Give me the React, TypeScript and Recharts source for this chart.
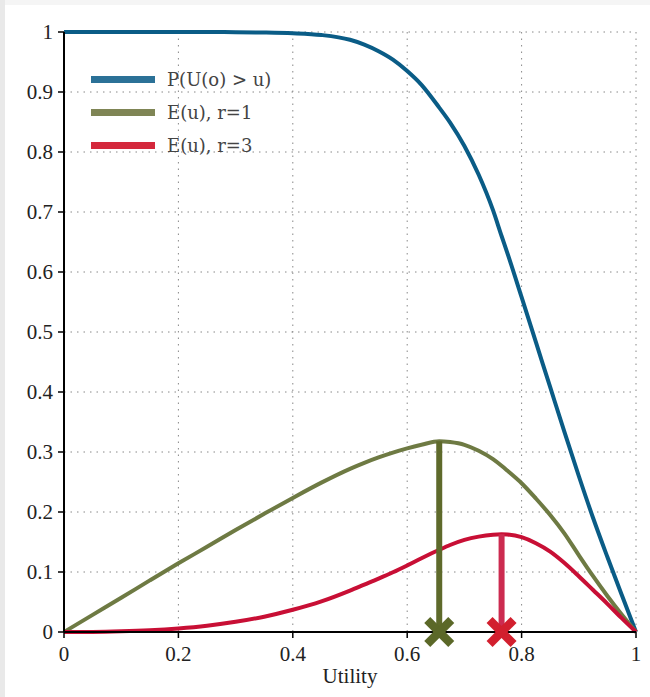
import { ComposedChart, Line, Scatter, XAxis, YAxis, CartesianGrid, ReferenceLine, Legend, Label } from "recharts";

const utility = [0, 0.05, 0.1, 0.15, 0.2, 0.25, 0.3, 0.35, 0.4, 0.45, 0.5, 0.525, 0.55, 0.575, 0.6, 0.625, 0.656, 0.675, 0.7, 0.725, 0.75, 0.765, 0.775, 0.8, 0.825, 0.85, 0.875, 0.9, 0.925, 0.95, 0.975, 1];
const probAbove = [1, 1, 1, 1, 1, 1, 0.9996, 0.9992, 0.998, 0.995, 0.987, 0.979, 0.968, 0.954, 0.935, 0.912, 0.874, 0.849, 0.81, 0.762, 0.703, 0.66, 0.632, 0.558, 0.483, 0.408, 0.333, 0.26, 0.19, 0.125, 0.062, 0];
const expectedR1 = [0, 0.0286, 0.057, 0.086, 0.1145, 0.142, 0.17, 0.197, 0.2235, 0.249, 0.272, 0.282, 0.291, 0.299, 0.306, 0.312, 0.318, 0.3165, 0.312, 0.302, 0.288, 0.277, 0.269, 0.248, 0.2225, 0.195, 0.164, 0.128, 0.093, 0.06, 0.029, 0];
const expectedR3 = [0, 0.0002, 0.0012, 0.003, 0.006, 0.0105, 0.017, 0.0255, 0.037, 0.051, 0.069, 0.079, 0.089, 0.0995, 0.111, 0.123, 0.137, 0.145, 0.1535, 0.159, 0.1622, 0.163, 0.1625, 0.158, 0.148, 0.134, 0.115, 0.093, 0.07, 0.047, 0.023, 0];

const optimumU = [0.656, 0.765];
const optimumE = [0.318, 0.163];

const xTicks = [0, 0.2, 0.4, 0.6, 0.8, 1];
const yTicks = [0, 0.1, 0.2, 0.3, 0.4, 0.5, 0.6, 0.7, 0.8, 0.9, 1];

const series = [
  { key: "p", name: "P(U(o) > u)", color: "#0a5c86", legend: "#2b7197" },
  { key: "e1", name: "E(u), r=1", color: "#6e7a43", legend: "#7f8555" },
  { key: "e3", name: "E(u), r=3", color: "#c80f35", legend: "#d4283c" },
];
const markerColors = [
  { line: "#5e6a2b", mark: "#5b6828" },
  { line: "#cc2b50", mark: "#d21f2e" },
];

const data = utility.map((u, i) => ({ u, p: probAbove[i], e1: expectedR1[i], e3: expectedR3[i] }));

const tickStyle = { fontFamily: "'Liberation Serif', serif", fontSize: 21, fill: "#222" };

function XMark(props: any) {
  const { cx, cy, fill } = props;
  const s = 12;
  return (
    <g stroke={fill} strokeWidth={8.5}>
      <line x1={cx - s} y1={cy - s} x2={cx + s} y2={cy + s} />
      <line x1={cx - s} y1={cy + s} x2={cx + s} y2={cy - s} />
    </g>
  );
}

function LegendBox() {
  return (
    <div style={{ fontFamily: "'DejaVu Serif', serif", fontSize: 18, color: "#444" }}>
      {series.map((s) => (
        <div key={s.key} style={{ display: "flex", alignItems: "center", height: 33 }}>
          <div style={{ width: 64, height: 7, background: s.legend, marginRight: 12 }} />
          <span>{s.name}</span>
        </div>
      ))}
    </div>
  );
}

export default function App() {
  return (
    <div style={{ position: "relative", width: 650, height: 697, background: "#e9e9e9" }}>
      <style>{"body{margin:0}"}</style>
      <div style={{ position: "absolute", left: 5, top: 0, right: 0, height: 5, background: "#f5f5f5" }} />
      <div style={{ position: "absolute", left: 5, top: 5, right: 0, bottom: 0, background: "#fff" }} />
      <div style={{ position: "absolute", left: 0, top: 0 }}>
        <ComposedChart width={650} height={697} data={data} margin={{ top: 32, right: 14, bottom: 5, left: 10 }}>
          <CartesianGrid stroke="#888" strokeDasharray="1.5 5" />
          <XAxis
            dataKey="u"
            type="number"
            domain={[0, 1]}
            ticks={xTicks}
            tickFormatter={(v) => String(v)}
            height={60}
            tickSize={6}
            tickMargin={8}
            tick={tickStyle}
            axisLine={{ stroke: "#000", strokeWidth: 2 }}
            tickLine={{ stroke: "#000", strokeWidth: 1.5 }}
          >
            <Label value="Utility" position="insideBottom" offset={9} style={tickStyle} />
          </XAxis>
          <XAxis
            xAxisId="top"
            orientation="top"
            dataKey="u"
            type="number"
            domain={[0, 1]}
            ticks={xTicks}
            height={0}
            tick={false}
            tickSize={6}
            axisLine={{ stroke: "#000", strokeWidth: 1.5 }}
            tickLine={{ stroke: "#000", strokeWidth: 1.5 }}
          />
          <YAxis
            type="number"
            domain={[0, 1]}
            ticks={yTicks}
            tickFormatter={(v) => String(v)}
            width={54}
            tickSize={6}
            tickMargin={5}
            tick={tickStyle}
            axisLine={{ stroke: "#000", strokeWidth: 2 }}
            tickLine={{ stroke: "#000", strokeWidth: 1.5 }}
          />
          <YAxis
            yAxisId="right"
            orientation="right"
            type="number"
            domain={[0, 1]}
            ticks={yTicks}
            width={0}
            tick={false}
            tickSize={6}
            axisLine={{ stroke: "#000", strokeWidth: 1.5 }}
            tickLine={{ stroke: "#000", strokeWidth: 1.5 }}
          />
          <Legend
            layout="vertical"
            align="center"
            verticalAlign="middle"
            content={() => <LegendBox />}
            wrapperStyle={{ left: 91, top: 63, width: "auto" }}
          />
          {series.map((s) => (
            <Line
              key={s.key}
              dataKey={s.key}
              name={s.name}
              type="monotone"
              stroke={s.color}
              strokeWidth={4}
              dot={false}
              isAnimationActive={false}
            />
          ))}
          {optimumU.map((u, i) => (
            <ReferenceLine
              key={"ref" + i}
              segment={[{ x: u, y: 0 }, { x: u, y: optimumE[i] }]}
              stroke={markerColors[i].line}
              strokeWidth={6}
              ifOverflow="visible"
            />
          ))}
          {optimumU.map((u, i) => (
            <Scatter
              key={"opt" + i}
              data={[{ u, v: 0 }]}
              dataKey="v"
              fill={markerColors[i].mark}
              shape={<XMark />}
              legendType="none"
              isAnimationActive={false}
            />
          ))}
        </ComposedChart>
      </div>
    </div>
  );
}
